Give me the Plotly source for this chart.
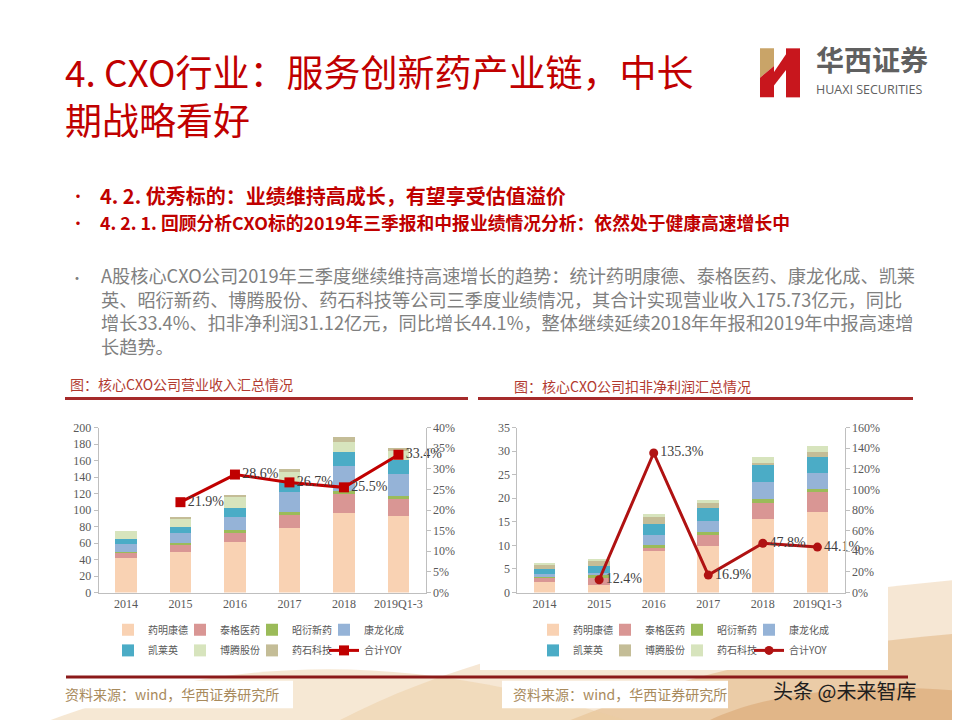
import plotly.graph_objects as go

# ---------------- data ----------------
years = ['2014', '2015', '2016', '2017', '2018', '2019Q1-3']
companies = ['药明康德', '泰格医药', '昭衍新药', '康龙化成', '凯莱英', '博腾股份', '药石科技']

# 营业收入 (亿元), per company
rev_yaoming = [42.0, 49.4, 61.3, 78.3, 96.8, 92.8]
rev_taige = [6.6, 9.1, 11.8, 15.7, 23.0, 20.3]
rev_zhaoyan = [0.9, 1.5, 2.4, 3.6, 3.5, 3.7]
rev_kanglong = [9.0, 12.3, 16.2, 23.7, 29.7, 26.9]
rev_kailaiying = [6.0, 7.1, 11.1, 12.3, 17.4, 16.6]
rev_boteng = [10.5, 11.5, 14.2, 13.4, 12.6, 11.3]
rev_yaoshi = [0.0, 0.8, 1.2, 2.4, 5.0, 4.1]
rev_yoy = [None, 21.9, 28.6, 26.7, 25.5, 33.4]

# 扣非净利润 (亿元), per company
np_yaoming = [2.2, 1.7, 8.85, 9.8, 15.6, 17.1]
np_taige = [1.1, 1.6, 0.85, 2.4, 3.4, 4.2]
np_zhaoyan = [0.2, 0.4, 0.4, 0.6, 0.9, 0.6]
np_kanglong = [0.4, 0.5, 2.1, 2.4, 3.5, 3.5]
np_kailaiying = [1.1, 1.4, 2.3, 2.8, 3.6, 3.3]
np_boteng = [1.15, 1.2, 1.8, 0.9, 0.5, 1.2]
np_yaoshi = [0.15, 0.25, 0.4, 0.7, 1.3, 1.2]
np_yoy = [None, 12.4, 135.3, 16.9, 47.8, 44.1]

rev_ticks = [0, 20, 40, 60, 80, 100, 120, 140, 160, 180, 200]
rev_yoy_ticks = [0, 5, 10, 15, 20, 25, 30, 35, 40]
np_ticks = [0, 5, 10, 15, 20, 25, 30, 35]
np_yoy_ticks = [0, 20, 40, 60, 80, 100, 120, 140, 160]

# ---------------- styling ----------------
W, H = 960, 720
def px(x):
    return x / W
def py(y):
    return 1 - y / H

CJK = 'Noto Sans CJK SC'
SERIF = 'Liberation Serif'
RED = '#C00000'
TICKC = '#595959'
AXC = '#BFBFBF'

c_peach = '#F9D2B3'
c_pink = '#D99694'
c_green = '#9BBB59'
c_blue = '#95B3D7'
c_teal = '#4BACC6'
c_lgreen = '#D7E4BD'
c_khaki = '#C4BD97'

left_colors = [c_peach, c_pink, c_green, c_blue, c_teal, c_lgreen, c_khaki]
right_colors = [c_peach, c_pink, c_green, c_blue, c_teal, c_khaki, c_lgreen]

rev_series = [rev_yaoming, rev_taige, rev_zhaoyan, rev_kanglong, rev_kailaiying, rev_boteng, rev_yaoshi]
np_series = [np_yaoming, np_taige, np_zhaoyan, np_kanglong, np_kailaiying, np_boteng, np_yaoshi]

fig = go.Figure()

def spacer(legend_name, xa, ya):
    # invisible trailing legend entry so the last label is not clipped
    fig.add_trace(go.Scatter(x=[None], y=[None], name=' ', mode='markers',
                             marker=dict(color='rgba(0,0,0,0)', size=1,
                                         line=dict(width=0, color='rgba(0,0,0,0)')),
                             xaxis=xa, yaxis=ya,
                             legend=legend_name, hoverinfo='skip', showlegend=True))

for i, (name, vals) in enumerate(zip(companies, rev_series)):
    fig.add_trace(go.Bar(
        x=years, y=vals, name=name, xaxis='x', yaxis='y',
        marker=dict(color=left_colors[i], line=dict(width=0)),
        legend='legend' if i < 4 else 'legend2', hoverinfo='skip'))
fig.add_trace(go.Scatter(
    x=years, y=rev_yoy, name='合计YOY', xaxis='x', yaxis='y2',
    mode='lines+markers+text',
    text=['' if v is None else f'{v}%' for v in rev_yoy],
    textposition='middle right', textfont=dict(family=SERIF, size=14, color='#404040'),
    line=dict(color=RED, width=3), marker=dict(symbol='square', size=10, color=RED),
    cliponaxis=False, legend='legend2'))
spacer('legend', 'x', 'y2')
spacer('legend2', 'x', 'y2')

for i, (name, vals) in enumerate(zip(companies, np_series)):
    fig.add_trace(go.Bar(
        x=years, y=vals, name=name, xaxis='x2', yaxis='y3',
        marker=dict(color=right_colors[i], line=dict(width=0)),
        legend='legend3' if i < 4 else 'legend4', hoverinfo='skip'))
fig.add_trace(go.Scatter(
    x=years, y=np_yoy, name='合计YOY', xaxis='x2', yaxis='y4',
    mode='lines+markers+text',
    text=['' if v is None else f'{v}%' for v in np_yoy],
    textposition='middle right', textfont=dict(family=SERIF, size=14, color='#404040'),
    line=dict(color='#B01212', width=3), marker=dict(symbol='circle', size=9, color='#B01212'),
    cliponaxis=False, legend='legend4'))
spacer('legend3', 'x2', 'y4')
spacer('legend4', 'x2', 'y4')

tickfont = dict(family=SERIF, size=12, color=TICKC)
xcommon = dict(type='category', showline=True, linecolor=AXC, linewidth=1, ticks='',
               tickfont=tickfont, showgrid=False, zeroline=False, fixedrange=True)
ycommon = dict(showline=True, linecolor=AXC, linewidth=1, ticks='outside', ticklen=4,
               tickcolor=AXC, tickfont=tickfont, showgrid=False, zeroline=False, fixedrange=True,
               tickmode='array')

ydom = [py(589), py(420.7)]

legcommon = dict(orientation='h', yanchor='middle', xanchor='left',
                 font=dict(family=CJK, size=10, color=TICKC), entrywidth=27,
                 entrywidthmode='pixels', bgcolor='rgba(0,0,0,0)', traceorder='normal',
                 itemclick=False, itemdoubleclick=False, tracegroupgap=0)

fig.update_layout(
    width=W, height=H, margin=dict(l=0, r=0, t=0, b=0),
    paper_bgcolor='white', plot_bgcolor='white',
    barmode='stack', bargap=0.6, showlegend=True,
    xaxis=dict(domain=[px(90.7), px(417.7)], anchor='y', **xcommon),
    yaxis=dict(domain=ydom, anchor='x', range=[0, 200], tickvals=rev_ticks,
               ticktext=[str(v) for v in rev_ticks], **ycommon),
    yaxis2=dict(overlaying='y', side='right', anchor='x', range=[0, 40],
                tickvals=rev_yoy_ticks, ticktext=[f'{v}%' for v in rev_yoy_ticks], **ycommon),
    xaxis2=dict(domain=[px(509.3), px(836.7)], anchor='y3', **xcommon),
    yaxis3=dict(domain=ydom, anchor='x2', range=[0, 35], tickvals=np_ticks,
                ticktext=[str(v) for v in np_ticks], **ycommon),
    yaxis4=dict(overlaying='y3', side='right', anchor='x2', range=[0, 160],
                tickvals=np_yoy_ticks, ticktext=[f'{v}%' for v in np_yoy_ticks], **ycommon),
    legend=dict(x=px(100), y=py(627), **legcommon),
    legend2=dict(x=px(100), y=py(648), **legcommon),
    legend3=dict(x=px(525), y=py(627), **legcommon),
    legend4=dict(x=px(525), y=py(648), **legcommon),
)

# ---------------- decoration shapes ----------------
shapes = []
def path(pts):
    return 'M ' + ' L '.join(f'{px(x):.5f},{py(y):.5f}' for x, y in pts) + ' Z'

def rect(x0, y0, x1, y1, color, layer='below'):
    shapes.append(dict(type='rect', xref='paper', yref='paper', x0=px(x0), x1=px(x1),
                       y0=py(y1), y1=py(y0), fillcolor=color, line=dict(width=0), layer=layer))

def hline(x0, x1, y, color, width):
    shapes.append(dict(type='line', xref='paper', yref='paper', x0=px(x0), x1=px(x1),
                       y0=py(y), y1=py(y), line=dict(color=color, width=width), layer='above'))

def curve(d_pts, color):
    s = 'M ' + d_pts[0]
    s += ' ' + ' '.join(d_pts[1:]) + ' Z'
    shapes.append(dict(type='path', xref='paper', yref='paper', path=s,
                       fillcolor=color, line=dict(width=0), layer='below'))

def P(x, y):
    return f'{px(x):.5f},{py(y):.5f}'

# decorative background waves
curve([P(330, 720), 'C ' + P(480, 640) + ' ' + P(700, 600) + ' ' + P(960, 575), 'L ' + P(960, 720)],
      'rgba(238,212,176,0.55)')
curve([P(560, 720), 'C ' + P(680, 670) + ' ' + P(820, 640) + ' ' + P(960, 630), 'L ' + P(960, 720)],
      'rgba(222,170,112,0.45)')
curve([P(40, 720), 'C ' + P(200, 660) + ' ' + P(380, 640) + ' ' + P(620, 720)],
      'rgba(236,205,160,0.45)')
curve([P(700, 720), 'C ' + P(760, 690) + ' ' + P(860, 680) + ' ' + P(960, 690), 'L ' + P(960, 720)],
      'rgba(205,140,80,0.35)')

# white chart backgrounds
rect(40, 395, 462, 664, 'white')
rect(472, 395, 880, 668, 'white')
rect(48, 679, 285, 707, 'white')
rect(494, 679, 720, 707, 'white')

hline(57, 460, 391, '#A52A2A', 3)
hline(470, 905, 391, '#A52A2A', 3)
hline(58, 900, 675, '#8B1A1A', 3)

# logo
LRED = '#C8161D'
LGOLD = '#C9A468'
for pts, col in [
    ([(752, 34), (766, 34), (766, 52), (752, 64)], LGOLD),
    ([(752, 64), (766, 52), (766, 84), (752, 84)], LRED),
    ([(766, 58), (778, 40), (778, 56), (766, 72)], LRED),
    ([(778, 34), (792, 34), (792, 84), (778, 84)], LRED),
]:
    shapes.append(dict(type='path', xref='paper', yref='paper', line=dict(width=0),
                       fillcolor=col, path=path(pts), layer='above'))

fig.update_layout(shapes=shapes)

# ---------------- text ----------------
ann = []
def text(x, y, s, size, color, family=CJK, anchor='left'):
    ann.append(dict(x=px(x), y=py(y), xref='paper', yref='paper', text=s, showarrow=False,
                    xanchor=anchor, yanchor='middle', align='left',
                    font=dict(family=family, size=size, color=color)))

text(55, 82, '4. CXO行业：服务创新药产业链，中长<br>期战略看好', 37, RED)

text(806, 45, '<b>华西证券</b>', 28, '#606060')
text(806, 76, 'HUAXI SECURITIES', 12.5, '#606060', family='Open Sans')

text(60, 184, '•', 16, RED)
text(90, 184, '<b>4. 2. 优秀标的：业绩维持高成长，有望享受估值溢价</b>', 20, RED)
text(60, 211, '•', 16, RED)
text(90, 211, '<b>4. 2. 1. 回顾分析CXO标的2019年三季报和中报业绩情况分析：依然处于健康高速增长中</b>', 17.8, RED)

GRAY = '#808080'
text(60, 267, '•', 14, GRAY)
para = [
    'A股核心CXO公司2019年三季度继续维持高速增长的趋势：统计药明康德、泰格医药、康龙化成、凯莱',
    '英、昭衍新药、博腾股份、药石科技等公司三季度业绩情况，其合计实现营业收入175.73亿元，同比',
    '增长33.4%、扣非净利润31.12亿元，同比增长44.1%，整体继续延续2018年年报和2019年中报高速增',
    '长趋势。',
]
text(91, 301.5, '<br>'.join(para), 18.2, GRAY)

text(60, 376, '图：核心CXO公司营业收入汇总情况', 14, '#B23A30')
text(504, 378, '图：核心CXO公司扣非净利润汇总情况', 14, '#B23A30')

text(55, 692, '资料来源：wind，华西证券研究所', 14, '#A88A5C')
text(503, 692, '资料来源：wind，华西证券研究所', 14, '#A88A5C')

text(763, 689, '头条 @未来智库', 20, '#1E1E1E')

fig.update_layout(annotations=ann)

fig.write_html('out.html')
